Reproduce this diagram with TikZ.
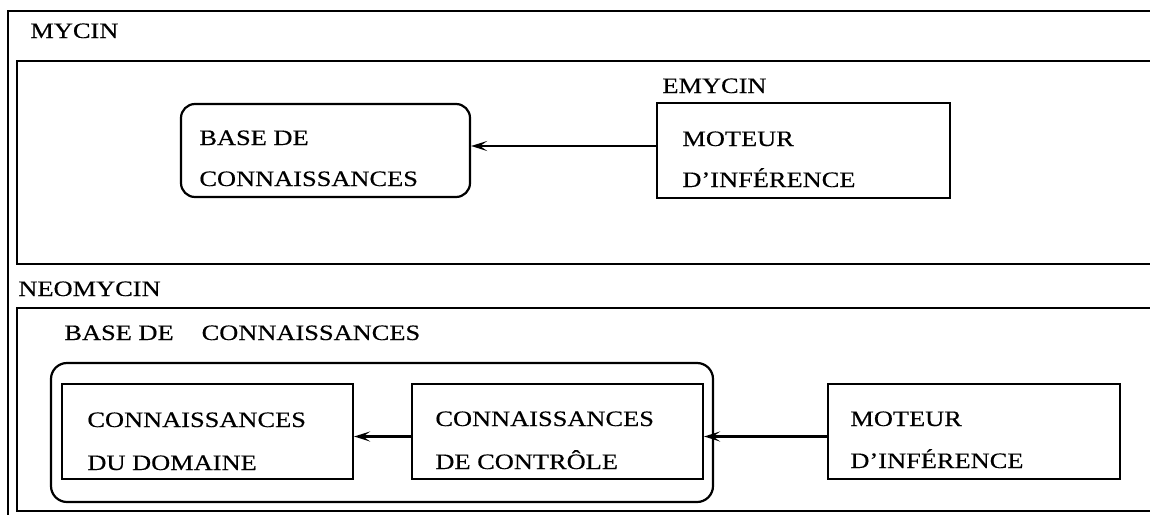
\documentclass[tikz,border=0pt]{standalone}
\usepackage{fontspec}
\setmainfont{Liberation Serif}[FakeStretch=1.2,FakeBold=0.4]
\usetikzlibrary{arrows.meta,fit}
\newcommand\dgfont{\fontsize{11pt}{13pt}\selectfont}
\tikzset{
  box/.style={draw, line width=1.1pt, inner sep=0pt},
  rbox/.style={box, rounded corners=7pt},
  txt/.style={anchor=base west, inner sep=0pt, font=\dgfont},
  arr/.style={-{Stealth[length=8pt,width=5pt,inset=3.5pt]}, line width=1.1pt}
}
\begin{document}
\begin{tikzpicture}[x=0.5pt,y=-0.5pt]
\clip (0,0) rectangle (1150,514);
% outer frame
\node[box, fit={(8,11)(1175,520)}] (outer) {};
\node[txt] (lmycin) at (30,38) {MYCIN};
% MYCIN frame
\node[box, fit={(17,61)(1175,264)}] (myframe) {};
\node[txt] (lemycin) at (662,93) {EMYCIN};
\node[rbox, fit={(181,104)(470,197)}] (base1) {};
\node[txt] (b1a) at (199,145) {BASE DE};
\node[txt] (b1b) at (199,186) {CONNAISSANCES};
\node[box, fit={(657,103)(950,198)}] (mot1) {};
\node[txt] (m1a) at (682,146) {MOTEUR};
\node[txt] (m1b) at (682,187) {D'INFÉRENCE};
\draw[arr] ([yshift=2.25pt]mot1.west) -- ([yshift=2.25pt]base1.east);
% NEOMYCIN frame
\node[txt] (lneo) at (18,296) {NEOMYCIN};
\node[box, fit={(17,308)(1175,511)}] (neoframe) {};
\node[txt] (lbase2) at (64,340) {BASE DE\hspace*{14pt}CONNAISSANCES};
\node[rbox, rounded corners=8pt, fit={(51,363)(713,502)}] (base2) {};
\node[box, fit={(62,384)(353,479)}] (dom) {};
\node[txt] (d1) at (87,427) {CONNAISSANCES};
\node[txt] (d2) at (87,470) {DU DOMAINE};
\node[box, fit={(412,384)(703,479)}] (ctrl) {};
\node[txt] (c1) at (435,426) {CONNAISSANCES};
\node[txt] (c2) at (435,469) {DE CONTRÔLE};
\node[box, fit={(828,384)(1120,479)}] (mot2) {};
\node[txt] (m2a) at (850,426) {MOTEUR};
\node[txt] (m2b) at (850,468) {D'INFÉRENCE};
\draw[arr] ([yshift=-2.5pt]ctrl.west) -- ([yshift=-2.5pt]dom.east);
\draw[arr] ([yshift=-2.5pt]mot2.west) -- ([yshift=-2.5pt]ctrl.east);
\end{tikzpicture}
\end{document}
